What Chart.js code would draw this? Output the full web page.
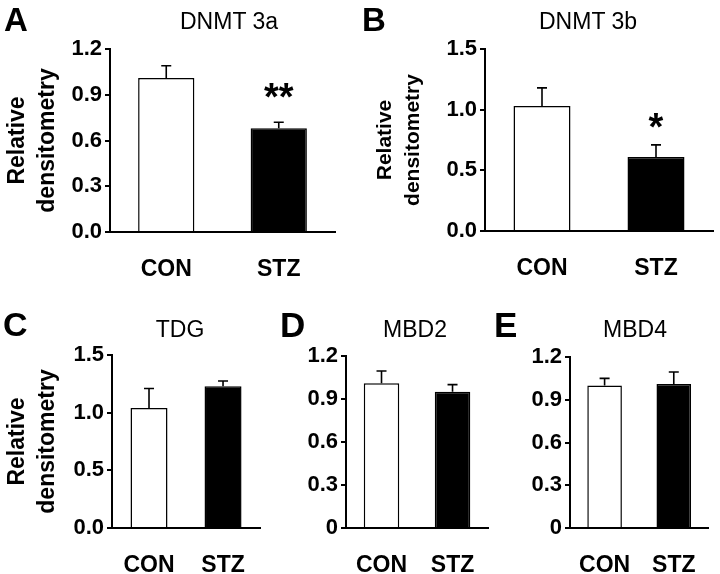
<!DOCTYPE html>
<html>
<head>
<meta charset="utf-8">
<script src="https://cdn.jsdelivr.net/npm/chart.js@4"></script>
<style>
  body { margin: 0; background: #fff; }
  #fig { position: relative; width: 720px; height: 574px; overflow: hidden; font-family: "Liberation Sans", Arial, sans-serif; }
  canvas { position: absolute; }
  .letter { position: absolute; font-weight: bold; line-height: 1; color: #000; }
  .ttl { position: absolute; width: 200px; text-align: center; font-size: 23px; line-height: 1; color: #000; }
</style>
</head>
<body>
<div id="fig"></div>
<script>
// data
const groups = ["CON", "STZ"];
const panelLetters = ["A", "B", "C", "D", "E"];
const panelTitles = ["DNMT 3a", "DNMT 3b", "TDG", "MBD2", "MBD4"];
const conMeans = [1.01, 1.03, 1.04, 1.01, 1.00];
const conErrors = [0.08, 0.15, 0.17, 0.085, 0.05];
const stzMeans = [0.68, 0.61, 1.23, 0.95, 1.01];
const stzErrors = [0.04, 0.10, 0.045, 0.05, 0.085];
const stzStars = ["**", "*", "", "", ""];
const yTickValues = [
  [0, 0.3, 0.6, 0.9, 1.2],
  [0, 0.5, 1.0, 1.5],
  [0, 0.5, 1.0, 1.5],
  [0, 0.3, 0.6, 0.9, 1.2],
  [0, 0.3, 0.6, 0.9, 1.2]
];
const yTickLabels = [
  ["0.0", "0.3", "0.6", "0.9", "1.2"],
  ["0.0", "0.5", "1.0", "1.5"],
  ["0.0", "0.5", "1.0", "1.5"],
  ["0", "0.3", "0.6", "0.9", "1.2"],
  ["0", "0.3", "0.6", "0.9", "1.2"]
];
const yTitle = ["Relative", "densitometry"];
const showYTitle = [true, true, true, false, false];

// layout of each panel (pixels)
const layout = [
  { left: 0,   top: 0,   w: 360, h: 290, yw: 110, padTop: 49, padRight: 25, xh: 58, titleSize: 23, titlePad: 3, lh: 1.3,
    letter: [4, 3], letterSize: 33, title: [229, 10], starGap: 32 },
  { left: 360, top: 0,   w: 360, h: 290, yw: 125, padTop: 49, padRight: 7,  xh: 59, titleSize: 21, titlePad: 11, lh: 1.35,
    letter: [362, 3], letterSize: 33, title: [588, 10], starGap: 25 },
  { left: 0,   top: 290, w: 270, h: 284, yw: 112, padTop: 65, padRight: 5,  xh: 46, titleSize: 23, titlePad: 3, lh: 1.3,
    letter: [3, 307], letterSize: 34, title: [180, 318], starGap: 25 },
  { left: 270, top: 290, w: 230, h: 284, yw: 76,  padTop: 66, padRight: 7,  xh: 46, titleSize: 21, titlePad: 3, lh: 1.3,
    letter: [280, 307], letterSize: 35, title: [415, 318], starGap: 25 },
  { left: 500, top: 290, w: 220, h: 284, yw: 70,  padTop: 67, padRight: 2,  xh: 46, titleSize: 21, titlePad: 3, lh: 1.3,
    letter: [494, 307], letterSize: 35, title: [635, 318], starGap: 25 }
];

const FONT = "'Liberation Sans', Arial, sans-serif";

const errorBarPlugin = {
  id: "errorBars",
  afterDatasetsDraw(chart) {
    const p = chart.options.plugins.errorBars;
    const ctx = chart.ctx;
    const yScale = chart.scales.y;
    const bars = chart.getDatasetMeta(0).data;
    ctx.save();
    ctx.strokeStyle = "#000";
    ctx.lineWidth = 1.6;
    bars.forEach((bar, i) => {
      const top = yScale.getPixelForValue(p.means[i] + p.errors[i]);
      ctx.beginPath();
      ctx.moveTo(bar.x, bar.y);
      ctx.lineTo(bar.x, top);
      ctx.moveTo(bar.x - 5, top);
      ctx.lineTo(bar.x + 5, top);
      ctx.stroke();
      if (p.stars[i]) {
        // asterisk glyph centre sits ~20px above baseline at 38px
        ctx.fillStyle = "#000";
        ctx.font = "bold 38px " + FONT;
        ctx.textAlign = "center";
        ctx.textBaseline = "alphabetic";
        ctx.fillText(p.stars[i], bar.x, top - p.starGap + 20);
      }
    });
    ctx.restore();
  }
};

const fig = document.getElementById("fig");

panelTitles.forEach((title, k) => {
  const L = layout[k];

  const canvas = document.createElement("canvas");
  canvas.width = L.w;
  canvas.height = L.h;
  canvas.style.left = L.left + "px";
  canvas.style.top = L.top + "px";
  fig.appendChild(canvas);

  const letter = document.createElement("div");
  letter.className = "letter";
  letter.textContent = panelLetters[k];
  letter.style.fontSize = L.letterSize + "px";
  letter.style.left = L.letter[0] + "px";
  letter.style.top = L.letter[1] + "px";
  fig.appendChild(letter);

  const t = document.createElement("div");
  t.className = "ttl";
  t.textContent = title;
  t.style.left = (L.title[0] - 100) + "px";
  t.style.top = L.title[1] + "px";
  fig.appendChild(t);

  new Chart(canvas, {
    type: "bar",
    data: {
      labels: groups,
      datasets: [{
        data: [conMeans[k], stzMeans[k]],
        backgroundColor: ["#ffffff", "#000000"],
        borderColor: "#000000",
        borderWidth: 1.5,
        categoryPercentage: 1,
        barPercentage: 0.5
      }]
    },
    options: {
      responsive: false,
      animation: false,
      layout: { padding: { top: L.padTop, right: L.padRight, left: 0, bottom: 0 } },
      plugins: {
        legend: { display: false },
        tooltip: { enabled: false },
        errorBars: {
          means: [conMeans[k], stzMeans[k]],
          errors: [conErrors[k], stzErrors[k]],
          stars: ["", stzStars[k]],
          starGap: L.starGap
        }
      },
      scales: {
        x: {
          grid: { display: false, drawTicks: false },
          border: { display: true, color: "#000", width: 2 },
          ticks: { color: "#000", padding: 24, font: { family: FONT, size: 23, weight: "bold" } },
          afterFit: s => { s.height = L.xh; }
        },
        y: {
          min: 0,
          max: yTickValues[k][yTickValues[k].length - 1],
          afterBuildTicks: s => { s.ticks = yTickValues[k].map(v => ({ value: v })); },
          grid: { display: true, drawOnChartArea: false, drawTicks: true, tickLength: 5, color: "#000", lineWidth: 2 },
          border: { display: true, color: "#000", width: 2 },
          ticks: {
            color: "#000",
            padding: 3,
            font: { family: FONT, size: 22, weight: "bold" },
            callback: (v, i) => yTickLabels[k][i]
          },
          title: {
            display: showYTitle[k],
            text: yTitle,
            color: "#000",
            padding: { top: L.titlePad, bottom: 0 },
            font: { family: FONT, size: L.titleSize, weight: "bold", lineHeight: L.lh }
          },
          afterFit: s => { s.width = L.yw; }
        }
      }
    },
    plugins: [errorBarPlugin]
  });
});
</script>
</body>
</html>
